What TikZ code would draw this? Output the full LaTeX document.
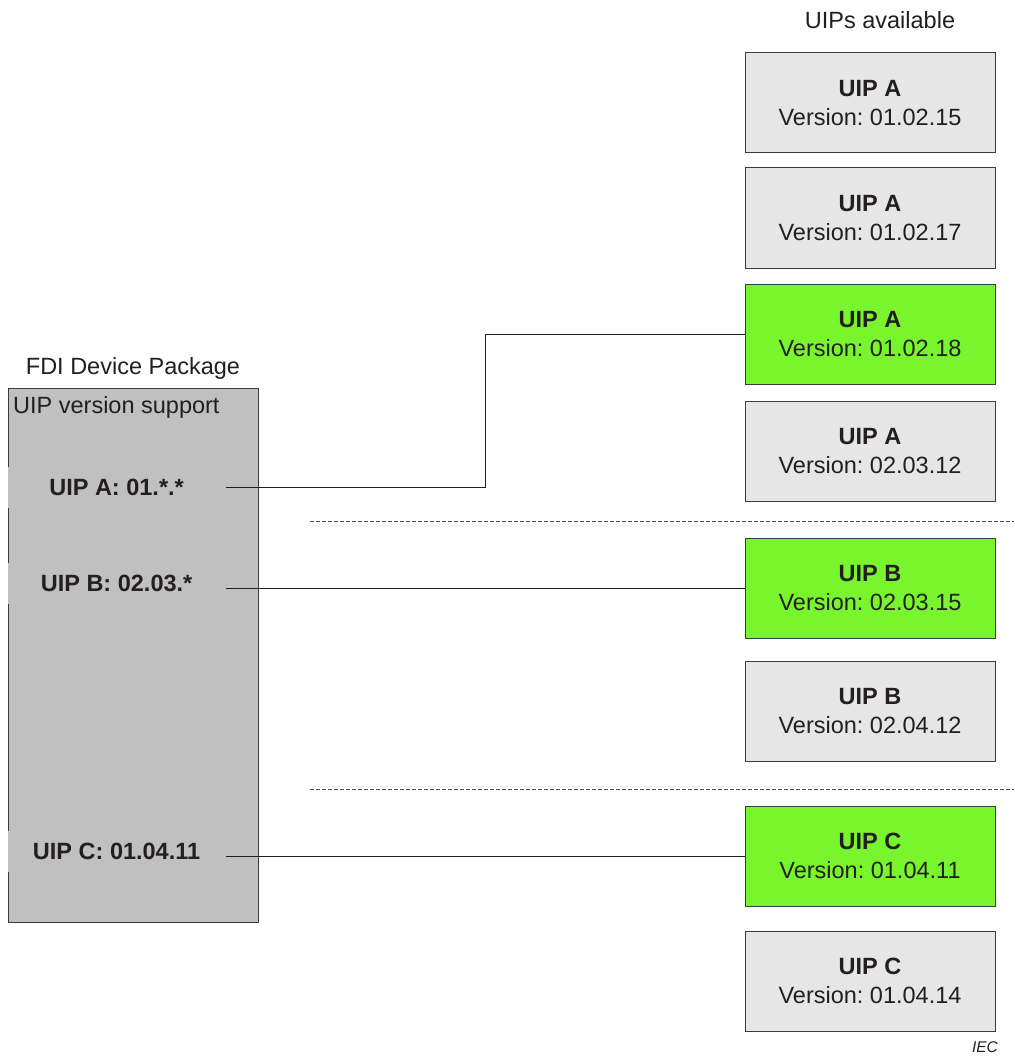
\documentclass[tikz,border=0pt]{standalone}
\usepackage{fontspec}
\setmainfont{Liberation Sans}
\frenchspacing
\definecolor{boxgray}{HTML}{E6E6E6}
\definecolor{selgreen}{HTML}{78F52C}
\definecolor{pkggray}{HTML}{C0C0C0}
\definecolor{edge}{HTML}{3C3C3C}
\definecolor{ink}{HTML}{231F20}
\begin{document}
\begin{tikzpicture}[x=1pt,y=-1pt,
  every node/.style={text=ink},
  txt/.style={font=\fontsize{23.5}{29}\selectfont},
  uip/.style={draw=edge, line width=1pt, fill=boxgray, minimum width=250pt, minimum height=100pt,
    inner sep=0pt, align=center, font=\fontsize{23.5}{29}\selectfont},
  sel/.style={uip, fill=selgreen},
  lbl/.style={fill=pkggray, minimum width=218pt, minimum height=41pt, inner sep=0pt,
    font=\bfseries\fontsize{23.5}{29}\selectfont},
  conn/.style={draw=ink, line width=0.8pt},
  sep/.style={draw=ink!80, line width=0.8pt, dash pattern=on 4pt off 2pt}]
\useasboundingbox (0,0) rectangle (1014,1059);

% right column
\node[txt] (avail) at (880,20) {UIPs available};
\node[uip] (a1) at (870,103) {\textbf{UIP A}\\Version: 01.02.15};
\node[uip] (a2) at (870,218) {\textbf{UIP A}\\Version: 01.02.17};
\node[sel] (a3) at (870,334) {\textbf{UIP A}\\Version: 01.02.18};
\node[uip] (a4) at (870,451) {\textbf{UIP A}\\Version: 02.03.12};
\node[sel] (b1) at (870,588) {\textbf{UIP B}\\Version: 02.03.15};
\node[uip] (b2) at (870,711) {\textbf{UIP B}\\Version: 02.04.12};
\node[sel] (c1) at (870,856) {\textbf{UIP C}\\Version: 01.04.11};
\node[uip] (c2) at (870,981) {\textbf{UIP C}\\Version: 01.04.14};

% separators
\draw[sep] (310,521) -- (1014,521);
\draw[sep] (310,789) -- (1014,789);

% left package
\node[txt] (pkgtitle) at (133,368) {FDI Device Package};
\node[draw=edge, line width=1pt, fill=pkggray, minimum width=250pt, minimum height=534pt,
  inner sep=0pt, anchor=north west] (pkg) at (8,388) {};
\node[txt, anchor=west, inner sep=0pt] (support) at (13,407) {UIP version support};
\node[lbl] (la) at (116.6,487) {UIP A: 01.*.*};
\node[lbl] (lb) at (116.6,583) {UIP B: 02.03.*};
\node[lbl] (lc) at (116.6,851) {UIP C: 01.04.11};

% connectors
\draw[conn] (la.east) -- (485,487) |- (a3.west);
\draw[conn] (lb.east |- b1.west) -- (b1.west);
\draw[conn] (lc.east |- c1.west) -- (c1.west);

\node[font=\itshape\fontsize{15.5}{18}\selectfont] (iec) at (985,1047) {IEC};
\end{tikzpicture}
\end{document}
